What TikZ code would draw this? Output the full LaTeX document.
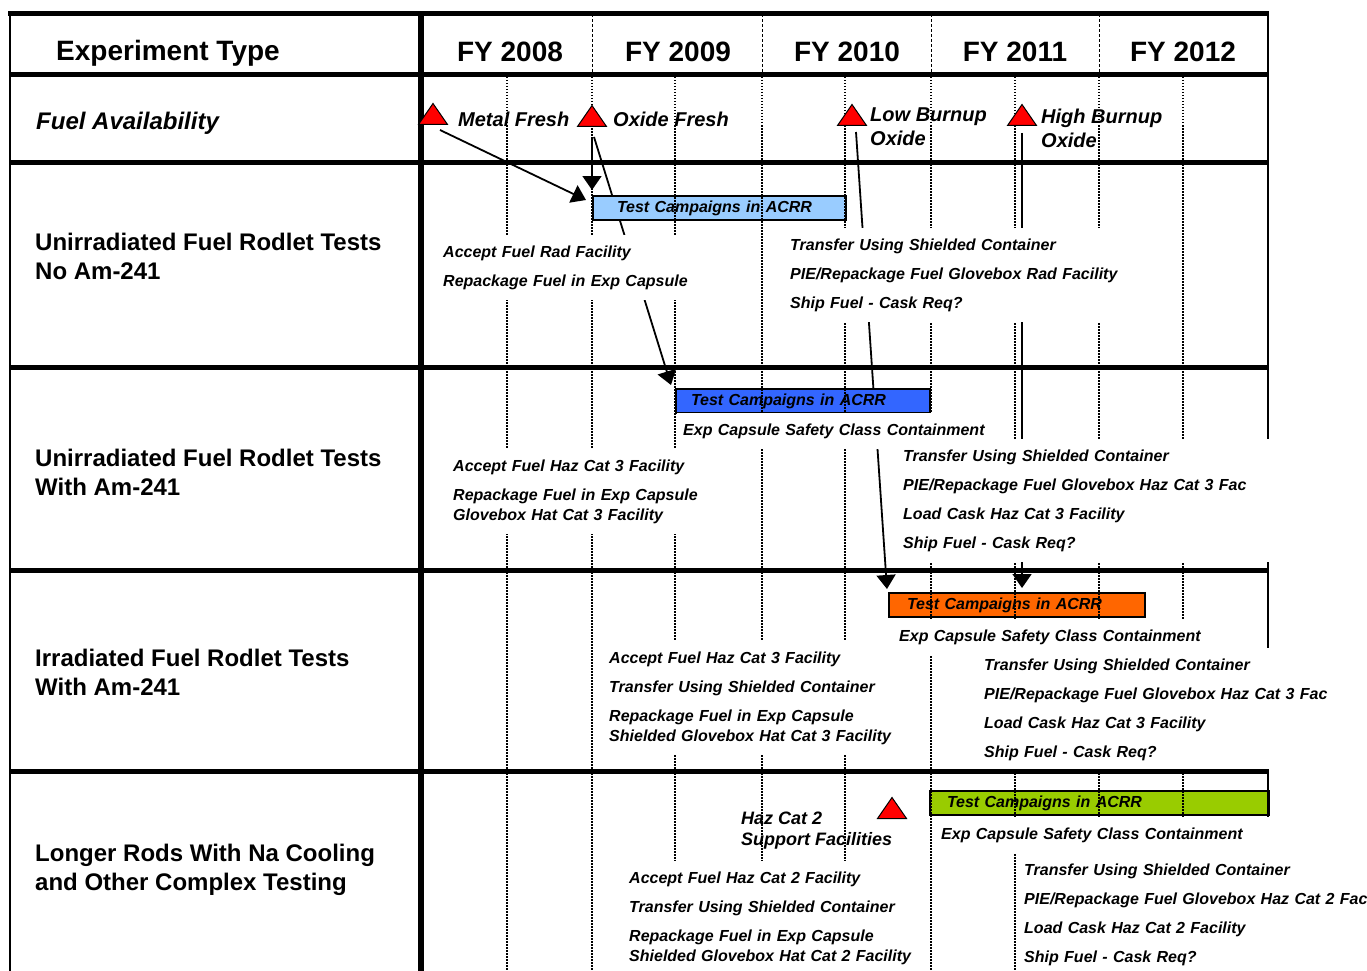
\documentclass[tikz,border=0pt]{standalone}
\usepackage{fontspec}
\setmainfont{Liberation Sans}
\usetikzlibrary{shapes.geometric,arrows.meta,calc}
\pgfdeclarelayer{back}
\pgfdeclarelayer{bars}
\pgfdeclarelayer{grid}
\pgfsetlayers{back,bars,grid,main}
\definecolor{barsky}{RGB}{153,204,255}
\definecolor{barblue}{RGB}{51,102,255}
\definecolor{barorange}{RGB}{255,102,0}
\definecolor{bargreen}{RGB}{153,204,0}
\tikzset{
  hdlbl/.style={font=\fontsize{28}{34}\selectfont\bfseries, inner sep=0pt},
  rowlbl/.style={font=\fontsize{24}{29}\selectfont\bfseries, align=left, anchor=north west, inner sep=0pt, execute at begin node=\strut},
  mslbl/.style={font=\fontsize{20}{24}\selectfont\bfseries\itshape, align=left, anchor=north west, inner sep=0pt, execute at begin node=\strut},
  evbox/.style={fill=white, font=\fontsize{16}{20}\selectfont\bfseries\itshape, align=left, anchor=north west, inner xsep=6pt, inner ysep=8pt, text width=#1, execute at begin node=\strut, execute at end node=\strut},
  bar/.style 2 args={draw, line width=2pt, fill=#1, anchor=north west, inner sep=0pt, minimum height=24pt, text width=#2, align=left, font=\fontsize{16}{20}\selectfont\bfseries\itshape},
  milestone/.style={isosceles triangle, isosceles triangle stretches, shape border rotate=90, minimum width=29pt, minimum height=21pt, inner sep=0pt, fill=red, draw=black, line width=1pt, anchor=south},
  conn/.style={line width=1.8pt, -{Triangle[width=19pt,length=14pt]}},
  halfyr/.style={line width=1.7pt, dash pattern=on 1.5pt off 1.5pt},
  fysep/.style={line width=0.8pt, dash pattern=on 3pt off 2pt},
  rule/.style={line width=5pt}
}
\begin{document}
\begin{tikzpicture}[x=1pt,y=-1pt]
\useasboundingbox (0,0) rectangle (1367,971);
\node[hdlbl, anchor=base west] (exptype) at (56,61) {Experiment Type};
\foreach \yr/\xc in {2008/510,2009/678,2010/847,2011/1015,2012/1183}
  \node[hdlbl, anchor=base] (fy\yr) at (\xc,62) {FY \yr};
\node[font=\fontsize{24}{29}\selectfont\bfseries\itshape, anchor=base west, inner sep=0pt] (fuelavail) at (36,129) {Fuel Availability};
\node[rowlbl] (unirrno) at (35,233) {Unirradiated Fuel Rodlet Tests\\No Am-241};
\node[rowlbl] (unirram) at (35,449) {Unirradiated Fuel Rodlet Tests\\With Am-241};
\node[rowlbl] (irram) at (35,649) {Irradiated Fuel Rodlet Tests\\With Am-241};
\node[rowlbl] (longrods) at (35,844) {Longer Rods With Na Cooling\\and Other Complex Testing};

\begin{pgfonlayer}{bars}
\node[bar={barsky}{253pt}] (tcA) at (592,195) {\hspace*{24pt}Test Campaigns in ACRR};
\node[bar={barblue}{254pt}] (tcB) at (675,388) {\hspace*{15pt}Test Campaigns in ACRR};
\node[bar={barorange}{256pt}] (tcC) at (888,592) {\hspace*{18pt}Test Campaigns in ACRR};
\node[bar={bargreen}{339pt}] (tcD) at (929,790) {\hspace*{17pt}Test Campaigns in ACRR};
\end{pgfonlayer}

\begin{pgfonlayer}{grid}
\foreach \x in {507,592,675,762,845,931,1015,1099,1183}
  \draw[halfyr] (\x,77) -- (\x,980);
\foreach \x in {592,762,931,1099}
  \draw[fysep] (\x,14) -- (\x,75);
\draw[line width=2.3pt] (1268,12) -- (1268,980);
\end{pgfonlayer}

\node[evbox=256pt] (radaccept) at (437,235) {Accept Fuel Rad Facility\\[9pt]Repackage Fuel in Exp Capsule};
\node[evbox=374pt] (radpie) at (784,228) {Transfer Using Shielded Container\\[9pt]PIE/Repackage Fuel Glovebox Rad Facility\\[9pt]Ship Fuel - Cask Req?};
\node[evbox=308pt] (expcapB) at (677,413) {Exp Capsule Safety Class Containment};
\node[evbox=253pt] (hazthreeA) at (447,449) {Accept Fuel Haz Cat 3 Facility\\[9pt]Repackage Fuel in Exp Capsule\\Glovebox Hat Cat 3 Facility};
\node[evbox=391pt] (hazthreeB) at (897,439) {Transfer Using Shielded Container\\[9pt]PIE/Repackage Fuel Glovebox Haz Cat 3 Fac\\[9pt]Load Cask Haz Cat 3 Facility\\[9pt]Ship Fuel - Cask Req?};
\node[evbox=310pt] (expcapC) at (893,619) {Exp Capsule Safety Class Containment};
\node[evbox=290pt] (irracceptC) at (603,641) {Accept Fuel Haz Cat 3 Facility\\[9pt]Transfer Using Shielded Container\\[9pt]Repackage Fuel in Exp Capsule\\Shielded Glovebox Hat Cat 3 Facility};
\node[evbox=377pt] (irrpieC) at (978,648) {Transfer Using Shielded Container\\[9pt]PIE/Repackage Fuel Glovebox Haz Cat 3 Fac\\[9pt]Load Cask Haz Cat 3 Facility\\[9pt]Ship Fuel - Cask Req?};
\node[evbox=333pt] (expcapD) at (935,817) {Exp Capsule Safety Class Containment};
\node[evbox=291pt] (hazacceptD) at (623,861) {Accept Fuel Haz Cat 2 Facility\\[9pt]Transfer Using Shielded Container\\[9pt]Repackage Fuel in Exp Capsule\\Shielded Glovebox Hat Cat 2 Facility};
\node[evbox=350pt] (hazpieD) at (1018,853) {Transfer Using Shielded Container\\[9pt]PIE/Repackage Fuel Glovebox Haz Cat 2 Fac\\[9pt]Load Cask Haz Cat 2 Facility\\[9pt]Ship Fuel - Cask Req?};

\draw[rule] (8,14) -- (1269,14);
\foreach \y in {75,162.5,367,570,771.5}
  \draw[rule] (9,\y) -- (1269,\y);
\draw[line width=2.3pt] (10,12) -- (10,980);
\draw[line width=5.7pt] (421,12) -- (421,980);

\node[milestone] (metal) at (433,125) {};
\node[milestone] (oxide) at (592,127) {};
\node[milestone] (lowbu) at (852,126) {};
\node[milestone] (highbu) at (1022,126) {};
\node[milestone] (hazcat) at (892,819) {};
\node[mslbl, anchor=base west] (metallbl) at (458,126) {Metal Fresh};
\node[mslbl, anchor=base west] (oxidelbl) at (613,127) {Oxide Fresh};
\node[mslbl] (lowlbl) at (870,108) {Low Burnup\\Oxide};
\node[mslbl] (highlbl) at (1041,109) {High Burnup\\Oxide};
\node[mslbl, font=\fontsize{18}{21}\selectfont\bfseries\itshape] (hazlbl) at (741,811.5) {Haz Cat 2\\Support Facilities};

\begin{pgfonlayer}{back}
\draw[conn] ([xshift=7pt,yshift=-5pt]metal.south) -- ([xshift=-6pt,yshift=-5pt]tcA.north west);
\draw[conn] ([yshift=-10pt]oxide.south) -- ([yshift=5pt]tcA.north west);
\draw[conn] ([xshift=2pt,yshift=-10pt]oxide.south) -- ([xshift=-4pt,yshift=3pt]tcB.north west);
\draw[conn] ([xshift=4pt,yshift=-6pt]lowbu.south) -- ([xshift=-1pt,yshift=3pt]tcC.north west);
\draw[conn] ([yshift=-7pt]highbu.south) -- ($(highbu.south |- tcC.north)+(0,-4)$);
\end{pgfonlayer}
\end{tikzpicture}
\end{document}
